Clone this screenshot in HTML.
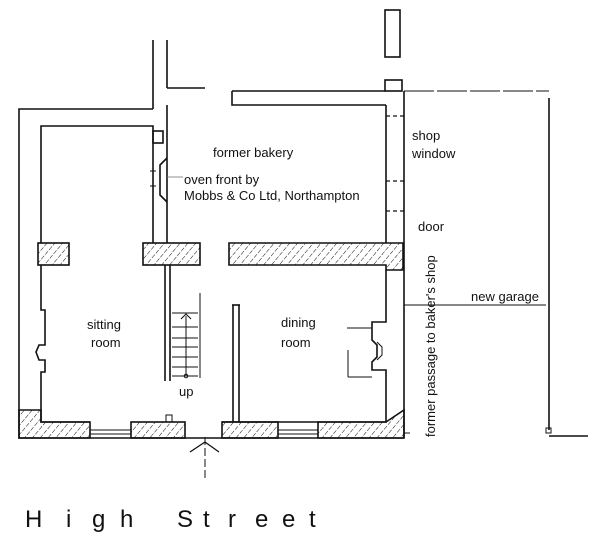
<!DOCTYPE html>
<html><head><meta charset="utf-8"><style>
html,body{margin:0;padding:0;background:#fff;}
svg{display:block}
text{font-family:"Liberation Sans",sans-serif;fill:#111;}
</style></head><body>
<svg width="600" height="554" viewBox="0 0 600 554" xmlns="http://www.w3.org/2000/svg">
<defs>
<pattern id="h" width="6" height="6" patternUnits="userSpaceOnUse" patternTransform="rotate(40)">
<line x1="0" y1="0" x2="0" y2="6" stroke="#111" stroke-width="1" stroke-dasharray="4 1.5"/>
</pattern>
</defs>
<g fill="none" stroke="#111" stroke-width="1.6">
<line x1="153" y1="40" x2="153" y2="109"/>
<line x1="167" y1="40" x2="167" y2="88"/>
<polyline points="167,88 205,88"/>
<polyline points="153,109 19,109 19,438 404,438"/>
<polyline points="41,243 41,126 153,126 153,243"/>
<polyline points="41,265 41,310 45,310 45,345 39,345 36,352 39,360 45,360 45,372 41,372 41,422 90,422"/>
<line x1="167" y1="105" x2="167" y2="243"/>
<rect x="153" y="131" width="10" height="12"/>
<polyline points="167,158 160,165 160,195 167,202"/>
<line x1="150" y1="171" x2="156" y2="171" stroke-width="1"/>
<line x1="150" y1="186" x2="156" y2="186" stroke-width="1"/>
<line x1="167" y1="177" x2="183" y2="177" stroke-width="0.8" stroke="#777"/>
<polyline points="232,91 385,91"/>
<polyline points="232,91 232,105 386,105"/>
<rect x="385" y="80" width="17" height="11"/>
<rect x="385" y="10" width="15" height="47"/>
<line x1="386" y1="105" x2="386" y2="243"/>
<line x1="404" y1="91" x2="404" y2="438"/>
<line x1="386" y1="116" x2="404" y2="116" stroke-dasharray="4 3" stroke-width="1.2"/>
<line x1="386" y1="181" x2="404" y2="181" stroke-dasharray="4 3" stroke-width="1.2"/>
<line x1="386" y1="211" x2="404" y2="211" stroke-dasharray="4 3" stroke-width="1.2"/>
<rect x="38" y="243" width="31" height="22" fill="url(#h)"/>
<rect x="143" y="243" width="57" height="22" fill="url(#h)"/>
<polygon points="229,243 403,243 403,270 386,270 386,265 229,265" fill="url(#h)"/>
<polygon points="19,410 41,410 41,422 90,422 90,438 19,438" fill="url(#h)"/>
<rect x="131" y="422" width="54" height="16" fill="url(#h)"/>
<rect x="222" y="422" width="56" height="16" fill="url(#h)"/>
<polygon points="318,422 386,422 404,410 404,438 318,438" fill="url(#h)"/>
<line x1="90" y1="430" x2="131" y2="430" stroke-width="1"/>
<line x1="90" y1="434" x2="131" y2="434" stroke-width="1"/>
<line x1="278" y1="430" x2="318" y2="430" stroke-width="1"/>
<line x1="278" y1="434" x2="318" y2="434" stroke-width="1"/>
<rect x="166" y="415" width="6" height="7" stroke-width="1"/>
<line x1="165" y1="265" x2="165" y2="381"/>
<line x1="170" y1="265" x2="170" y2="381"/>
<line x1="200" y1="293" x2="200" y2="378" stroke-width="1"/>
<g stroke-width="1">
<line x1="172" y1="313" x2="198" y2="313"/>
<line x1="172" y1="327" x2="198" y2="327"/>
<line x1="172" y1="338" x2="198" y2="338"/>
<line x1="172" y1="347" x2="198" y2="347"/>
<line x1="172" y1="357" x2="198" y2="357"/>
<line x1="172" y1="367" x2="198" y2="367"/>
<line x1="172" y1="376" x2="198" y2="376"/>
<line x1="186" y1="376" x2="186" y2="316"/>
<polyline points="181,319 186,314 191,319"/>
<circle cx="186" cy="376" r="1.8"/>
</g>
<line x1="233" y1="305" x2="233" y2="422"/>
<line x1="239" y1="305" x2="239" y2="422"/>
<line x1="232" y1="305" x2="240" y2="305"/>
<polyline points="386,270 386,322 372,322 372,340 377,345 377,357 372,362 372,370 386,370 386,422 222,422"/>
<polyline points="377,342 382,347 382,355 377,360" stroke-width="1"/>
<line x1="347" y1="328" x2="372" y2="328" stroke-width="1"/>
<line x1="348" y1="377" x2="372" y2="377" stroke-width="1"/>
<line x1="348" y1="350" x2="348" y2="377" stroke-width="1"/>
<line x1="404" y1="91" x2="549" y2="91" stroke-width="1" stroke-dasharray="30 3"/>
<line x1="549" y1="98" x2="549" y2="430"/>
<line x1="404" y1="305" x2="546" y2="305" stroke-width="1"/>
<rect x="546" y="428" width="5" height="5" stroke-width="1"/>
<line x1="549" y1="436" x2="588" y2="436"/>
<line x1="404" y1="433" x2="410" y2="433" stroke-width="1"/>
<polyline points="190,452 205,442 219,452" stroke-width="1.3"/>
<line x1="205" y1="437" x2="205" y2="480" stroke-width="1" stroke-dasharray="8 3"/>
</g>
<g font-size="13">
<text x="213" y="157">former bakery</text>
<text x="184" y="184">oven front by</text>
<text x="184" y="200">Mobbs &amp; Co Ltd, Northampton</text>
<text x="412" y="140">shop</text>
<text x="412" y="158">window</text>
<text x="418" y="231">door</text>
<text x="471" y="301">new garage</text>
<text x="87" y="329">sitting</text>
<text x="91" y="347">room</text>
<text x="281" y="327">dining</text>
<text x="281" y="347">room</text>
<text x="179" y="396">up</text>
<text transform="translate(435,437) rotate(-90)">former passage to baker's shop</text>
</g>
<g font-size="24">
<text x="25" y="527">H</text><text x="66" y="527">i</text><text x="92" y="527">g</text><text x="120" y="527">h</text>
<text x="177" y="527">S</text><text x="203" y="527">t</text><text x="228" y="527">r</text><text x="255" y="527">e</text><text x="282" y="527">e</text><text x="309" y="527">t</text>
</g>
</svg>
</body></html>
